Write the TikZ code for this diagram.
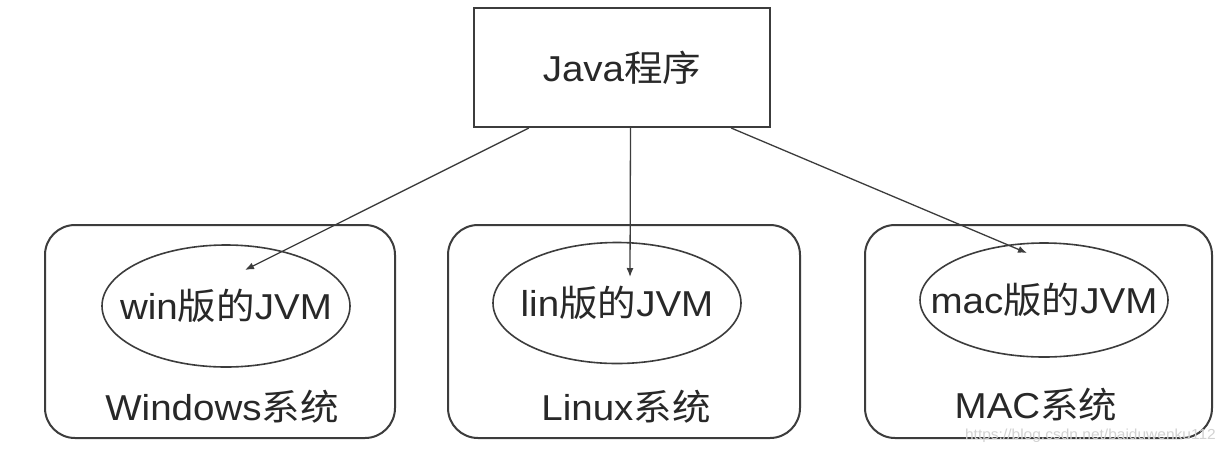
\documentclass[tikz,border=0pt]{standalone}
\usepackage{fontspec}
\setmainfont[FakeStretch=1.07]{Liberation Sans}
\newfontfamily\cjk[FakeStretch=1.07]{Noto Sans CJK SC}
\usetikzlibrary{arrows.meta,shapes.geometric}
\definecolor{linegray}{RGB}{60,60,60}
\definecolor{textgray}{RGB}{40,40,40}
\begin{document}
\begin{tikzpicture}[x=1pt,y=-1pt,
  box/.style={draw=linegray,line width=2pt,rectangle,minimum width=#1,minimum height=213pt,rounded corners=30pt},
  jvm/.style={draw=linegray,line width=1.6pt,ellipse,minimum width=248pt,minimum height=#1,inner sep=0pt},
  lbl/.style={text=textgray,font=\fontsize{36}{40}\selectfont,inner sep=0pt},
  link/.style={draw=linegray,line width=1.3pt,-{Latex[length=9pt,width=7pt]}}]
\useasboundingbox[fill=white] (0,0) rectangle (1226,448);
\node[draw=linegray,line width=2pt,rectangle,minimum width=296pt,minimum height=119pt,lbl] (java) at (622,67.5) {Java{\cjk 程序}};
\node[box=350pt] (winsys) at (220,331.5) {};
\node[box=352pt] (linsys) at (624,331.5) {};
\node[box=347pt] (macsys) at (1038.5,331.5) {};
\node[jvm=122pt] (winjvm) at (226,306) {};
\node[jvm=121pt] (linjvm) at (617,303) {};
\node[jvm=114pt] (macjvm) at (1044,300) {};
\node[lbl] (wintxt) at (winjvm) {win{\cjk 版的}JVM};
\node[lbl] (lintxt) at (linjvm) {lin{\cjk 版的}JVM};
\node[lbl] (mactxt) at (macjvm) {mac{\cjk 版的}JVM};
\node[lbl] (winlbl) at (222,407) {Windows{\cjk 系统}};
\node[lbl] (linlbl) at (626,407) {Linux{\cjk 系统}};
\node[lbl] (maclbl) at (1036,405) {MAC{\cjk 系统}};
\coordinate (wintip) at (245,270);
\coordinate (lintip) at (630,277);
\coordinate (mactip) at (1027,253);
\draw[link] (java.213) -- (wintip);
\draw[link] (java.278) -- (lintip);
\draw[link] (java.331) -- (mactip);
\node[anchor=east,inner sep=0pt,text=gray!35,font=\fontsize{14.5}{17}\selectfont] (mark) at (1216,436) {https://blog.csdn.net/baiduwenku112};
\end{tikzpicture}
\end{document}
